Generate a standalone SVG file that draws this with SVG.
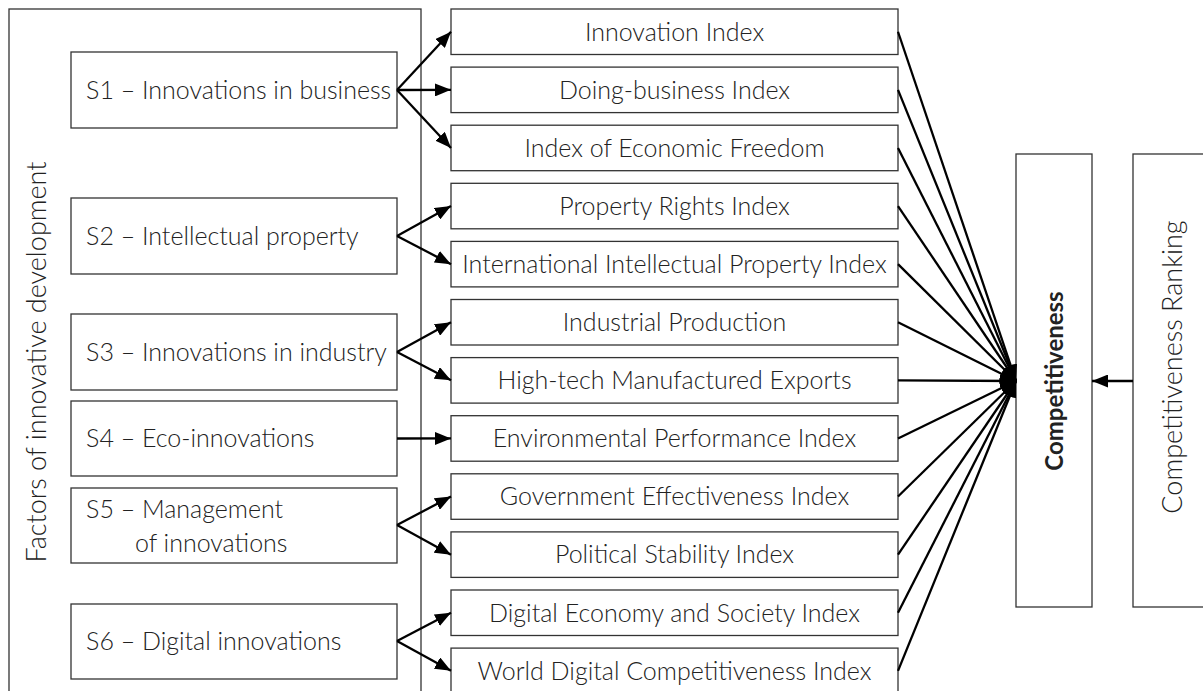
<svg xmlns="http://www.w3.org/2000/svg" width="1203" height="691" viewBox="0 0 1203 691">
<style>
.box{fill:#fff;stroke:#333;stroke-width:1.3}
.t{font-family:Lato,"Liberation Sans",sans-serif;font-weight:300;font-size:25px;fill:#222}
.c{text-anchor:middle}
.b{font-weight:700;font-size:24px}
.con line{stroke:#000;stroke-width:2.3;marker-end:url(#ah)}
</style>
<defs>
<marker id="ah" markerUnits="userSpaceOnUse" markerWidth="16" markerHeight="13" refX="16" refY="6.5" orient="auto">
<path d="M0,0 L16,6.5 L0,13 z" fill="#000"/>
</marker>
</defs>
<rect width="1203" height="691" fill="#fff"/>
<g id="factors">
<rect class="box" x="9" y="9" width="412" height="700"/>
<text class="t c" style="font-size:27px" transform="translate(46,362) rotate(-90)">Factors of innovative development</text>
</g>
<g id="s1"><rect class="box" x="71" y="52" width="326" height="76"/><text class="t" x="86" y="99">S1 – Innovations in business</text></g>
<g id="s2"><rect class="box" x="71" y="198" width="326" height="76"/><text class="t" x="86" y="245">S2 – Intellectual property</text></g>
<g id="s3"><rect class="box" x="71" y="314" width="326" height="76"/><text class="t" x="86" y="361">S3 – Innovations in industry</text></g>
<g id="s4"><rect class="box" x="71" y="401" width="326" height="75"/><text class="t" x="86" y="447">S4 – Eco-innovations</text></g>
<g id="s5"><rect class="box" x="71" y="488" width="326" height="75"/><text class="t" x="86" y="518">S5 – Management</text><text class="t" x="135" y="552">of innovations</text></g>
<g id="s6"><rect class="box" x="71" y="604" width="326" height="75"/><text class="t" x="86" y="650">S6 – Digital innovations</text></g>

<g id="i1"><rect class="box" x="451" y="9" width="447" height="45.5"/><text class="t c" x="674.5" y="40.5">Innovation Index</text></g>
<g id="i2"><rect class="box" x="451" y="67.1" width="447" height="45.5"/><text class="t c" x="674.5" y="98.6">Doing-business Index</text></g>
<g id="i3"><rect class="box" x="451" y="125.2" width="447" height="45.5"/><text class="t c" x="674.5" y="156.7">Index of Economic Freedom</text></g>
<g id="i4"><rect class="box" x="451" y="183.3" width="447" height="45.5"/><text class="t c" x="674.5" y="214.8">Property Rights Index</text></g>
<g id="i5"><rect class="box" x="451" y="241.4" width="447" height="45.5"/><text class="t c" x="674.5" y="272.9">International Intellectual Property Index</text></g>
<g id="i6"><rect class="box" x="451" y="299.5" width="447" height="45.5"/><text class="t c" x="674.5" y="331">Industrial Production</text></g>
<g id="i7"><rect class="box" x="451" y="357.6" width="447" height="45.5"/><text class="t c" x="674.5" y="389.1">High-tech Manufactured Exports</text></g>
<g id="i8"><rect class="box" x="451" y="415.7" width="447" height="45.5"/><text class="t c" x="674.5" y="447.2">Environmental Performance Index</text></g>
<g id="i9"><rect class="box" x="451" y="473.8" width="447" height="45.5"/><text class="t c" x="674.5" y="505.3">Government Effectiveness Index</text></g>
<g id="i10"><rect class="box" x="451" y="531.9" width="447" height="45.5"/><text class="t c" x="674.5" y="563.4">Political Stability Index</text></g>
<g id="i11"><rect class="box" x="451" y="590" width="447" height="45.5"/><text class="t c" x="674.5" y="621.5">Digital Economy and Society Index</text></g>
<g id="i12"><rect class="box" x="451" y="648.1" width="447" height="45.5"/><text class="t c" x="674.5" y="679.6">World Digital Competitiveness Index</text></g>

<g id="competitiveness"><rect class="box" x="1016" y="154" width="76" height="453"/><text class="t c b" transform="translate(1063,381) rotate(-90)">Competitiveness</text></g>
<g id="ranking"><rect class="box" x="1133" y="154" width="76" height="453"/><text class="t c" style="font-size:27px" transform="translate(1182,367) rotate(-90)">Competitiveness Ranking</text></g>

<g class="con" id="connectors">
<line x1="397" y1="90" x2="451" y2="31.75"/>
<line x1="397" y1="90" x2="451" y2="89.85"/>
<line x1="397" y1="90" x2="451" y2="147.95"/>
<line x1="397" y1="236" x2="451" y2="206.05"/>
<line x1="397" y1="236" x2="451" y2="264.15"/>
<line x1="397" y1="352" x2="451" y2="322.25"/>
<line x1="397" y1="352" x2="451" y2="380.35"/>
<line x1="397" y1="438.5" x2="451" y2="438.45"/>
<line x1="397" y1="525" x2="451" y2="496.55"/>
<line x1="397" y1="525" x2="451" y2="554.65"/>
<line x1="397" y1="641" x2="451" y2="612.75"/>
<line x1="397" y1="641" x2="451" y2="670.85"/>
<line x1="898" y1="31.75" x2="1016" y2="381"/>
<line x1="898" y1="89.85" x2="1016" y2="381"/>
<line x1="898" y1="147.95" x2="1016" y2="381"/>
<line x1="898" y1="206.05" x2="1016" y2="381"/>
<line x1="898" y1="264.15" x2="1016" y2="381"/>
<line x1="898" y1="322.25" x2="1016" y2="381"/>
<line x1="898" y1="380.35" x2="1016" y2="381"/>
<line x1="898" y1="438.45" x2="1016" y2="381"/>
<line x1="898" y1="496.55" x2="1016" y2="381"/>
<line x1="898" y1="554.65" x2="1016" y2="381"/>
<line x1="898" y1="612.75" x2="1016" y2="381"/>
<line x1="898" y1="670.85" x2="1016" y2="381"/>
<line x1="1133" y1="381" x2="1092" y2="381"/>
</g>
</svg>
